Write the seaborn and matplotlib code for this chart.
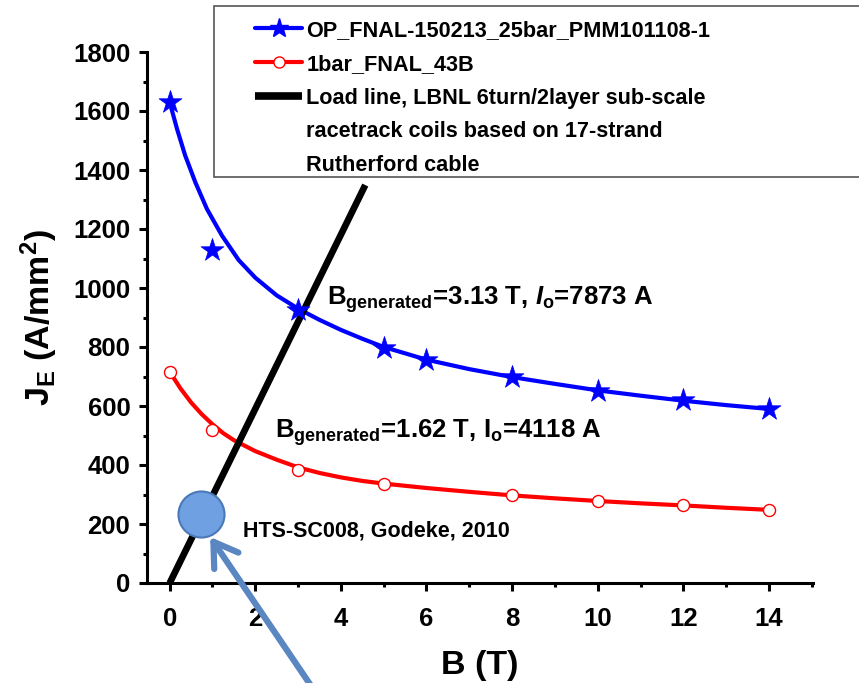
import matplotlib
matplotlib.use("Agg")
import matplotlib.pyplot as plt
import seaborn as sns
from matplotlib.lines import Line2D
from matplotlib.patches import Rectangle
from matplotlib.ticker import MultipleLocator

# ---------------- data ----------------
op_B = [0, 1, 3, 5, 6, 8, 10, 12, 14]
op_J = [1632, 1130, 925, 797, 757, 700, 652, 620, 589]

one_B = [0, 1, 3, 5, 8, 10, 12, 14]
one_J = [716, 520, 384, 336, 297, 279, 263, 248]

# fitted curves as drawn in the reference
op_fit_B = [0, 0.17, 0.36, 0.6, 0.87, 1.22, 1.61, 2.0, 2.5, 3.0, 3.5, 4.0, 4.5, 5.0, 6.0, 7.0, 8.0, 9.0, 10.0, 11.0, 12.0, 13.0, 14.0]
op_fit_J = [1630, 1540, 1450, 1358, 1268, 1178, 1095, 1035, 975, 930, 892, 858, 828, 800, 757, 725, 698, 675, 653, 635, 618, 603, 590]

one_fit_B = [0, 0.25, 0.5, 0.75, 1.0, 1.25, 1.5, 2.0, 2.5, 3.0, 3.5, 4.0, 4.5, 5.0, 6.0, 7.0, 8.0, 9.0, 10.0, 11.0, 12.0, 13.0, 14.0]
one_fit_J = [716, 660, 612, 572, 538, 508, 484, 447, 418, 392, 373, 358, 346, 337, 322, 309, 297, 287, 278, 270, 263, 255, 248]

load_B = [0, 4.57]
load_J = [0, 1349]

hts_B = [0.74]
hts_J = [233]

legend_labels = [
    "OP_FNAL-150213_25bar_PMM101108-1",
    "1bar_FNAL_43B",
    "Load line, LBNL 6turn/2layer sub-scale",
    "racetrack coils based on 17-strand",
    "Rutherford cable",
]
ann_hi = r"$\mathbf{B}_\mathbf{generated}$=3.13 T, $\mathit{I}_\mathbf{o}$=7873 A"
ann_lo = r"$\mathbf{B}_\mathbf{generated}$=1.62 T, I$_\mathbf{o}$=4118 A"
ann_hts = "HTS-SC008, Godeke, 2010"

# ---------------- style ----------------
sns.set_theme(style="ticks")
plt.rcParams["font.family"] = ["Liberation Sans", "DejaVu Sans"]
plt.rcParams["font.weight"] = "bold"
plt.rcParams["mathtext.fontset"] = "custom"
plt.rcParams["mathtext.rm"] = "Liberation Sans:bold"
plt.rcParams["mathtext.bf"] = "Liberation Sans:bold"
plt.rcParams["mathtext.it"] = "Liberation Sans:italic:bold"
plt.rcParams["axes.linewidth"] = 2.2
for key in ["text.color", "axes.labelcolor", "xtick.color", "ytick.color", "axes.edgecolor"]:
    plt.rcParams[key] = "black"

fig = plt.figure(figsize=(8.59, 6.83), dpi=100)
ax = fig.add_axes([147 / 859, 1 - 583 / 683, 666 / 859, 531 / 683])

# curves
sns.lineplot(x=op_fit_B, y=op_fit_J, ax=ax, color="blue", lw=3, sort=False, estimator=None, zorder=2)
sns.lineplot(x=one_fit_B, y=one_fit_J, ax=ax, color="red", lw=3, sort=False, estimator=None, zorder=2)
for ln in ax.lines:
    ln.set_solid_joinstyle("round")
sns.scatterplot(x=op_B, y=op_J, ax=ax, marker="*", s=300, color="blue", edgecolor="blue", linewidth=0.5, zorder=4)
sns.scatterplot(x=one_B, y=one_J, ax=ax, marker="o", s=75, facecolor="white", edgecolor="red", linewidth=1.0, zorder=4)
sns.lineplot(x=load_B, y=load_J, ax=ax, color="black", lw=4.8, sort=False, estimator=None, zorder=3)
ax.lines[-1].set_solid_capstyle("butt")
sns.scatterplot(x=hts_B, y=hts_J, ax=ax, s=1100, color="#6fa0e2", edgecolor="#4a78b8", linewidth=1.5, zorder=5)

# arrow pointing to HTS point
ax.annotate("", xy=(0.946, 156), xytext=(3.45, -380),
            arrowprops=dict(arrowstyle="->,head_length=0.55,head_width=0.35", color="#5a86c2",
                            lw=4.5, shrinkA=0, shrinkB=0, mutation_scale=30),
            annotation_clip=False, zorder=6)

# annotations
ax.text(3.67, 944, ann_hi, fontsize=18.5, va="baseline", ha="left")
ax.text(2.46, 492, ann_lo, fontsize=18.5, va="baseline", ha="left")
ax.text(1.72, 157, ann_hts, fontsize=15.5, va="baseline", ha="left")

# axes
ax.set_xlim(-0.53, 15.03)
ax.set_ylim(0, 1800)
ax.xaxis.set_major_locator(MultipleLocator(2))
ax.xaxis.set_minor_locator(MultipleLocator(1))
ax.yaxis.set_major_locator(MultipleLocator(200))
ax.yaxis.set_minor_locator(MultipleLocator(100))
for s in ["top", "right"]:
    ax.spines[s].set_visible(False)
ax.tick_params(which="major", length=6, width=2.2, labelsize=18.5, direction="out", color="black", labelcolor="black")
ax.tick_params(which="minor", length=3, width=2.2, direction="out", color="black")
ax.tick_params(axis="x", which="major", pad=11)
ax.tick_params(axis="y", which="major", pad=6)
for lab in ax.get_xticklabels() + ax.get_yticklabels():
    lab.set_fontweight("bold")

ax.set_xlabel("B (T)", fontsize=24.5, fontweight="bold", labelpad=14, color="black")
ax.set_ylabel(r"$\mathbf{J}_\mathbf{E}$ (A/mm$^\mathbf{2}$)", fontsize=24.5, fontweight="bold", color="black")
ax.yaxis.set_label_coords(-0.13, 0.5)

# legend box and legend
rect = Rectangle((214 / 859, 1 - 177 / 683), (900 - 214) / 859, 171 / 683, transform=fig.transFigure,
                 facecolor="white", edgecolor="#555555", lw=1.2, zorder=5)
fig.add_artist(rect)

handles = [
    Line2D([], [], color="blue", lw=3, marker="*", markersize=14, mec="blue"),
    Line2D([], [], color="red", lw=3, marker="o", markersize=8, mfc="white", mec="red", mew=1),
    Line2D([], [], color="black", lw=5.5, solid_capstyle="butt"),
    Line2D([], [], color="none"),
    Line2D([], [], color="none"),
]
leg = fig.legend(handles, legend_labels, loc="upper left", bbox_to_anchor=(255 / 859, 1 - 20 / 683),
                 frameon=False, fontsize=15.6, handlelength=2.17, handletextpad=0.2,
                 labelspacing=0.59, borderpad=0, borderaxespad=0)
for t in leg.get_texts():
    t.set_fontweight("bold")
    t.set_color("black")
leg.set_zorder(7)

fig.savefig("out.png", dpi=100)
